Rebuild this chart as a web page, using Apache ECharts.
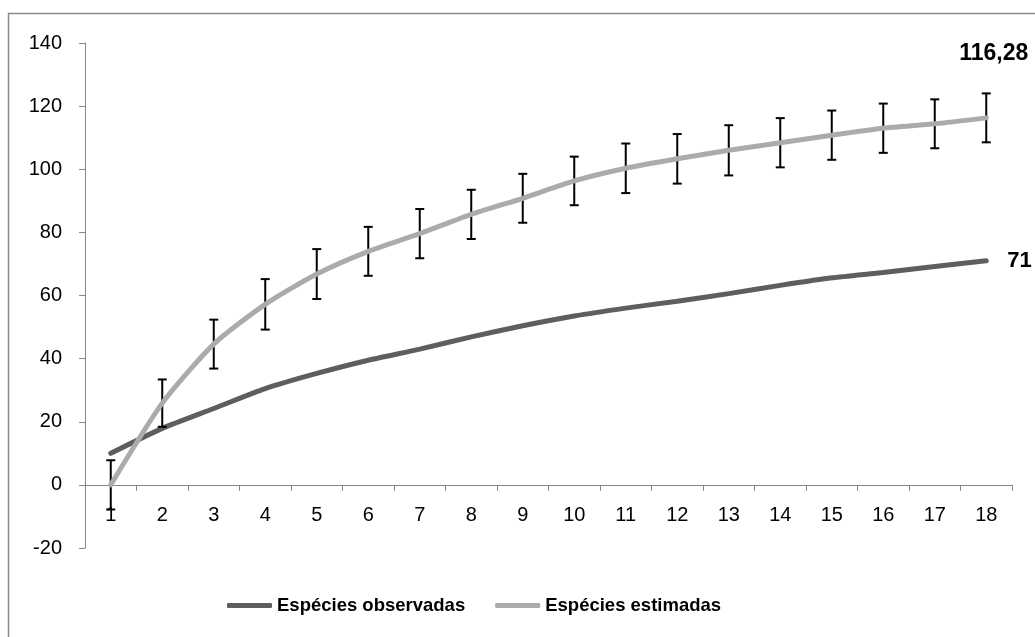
<!DOCTYPE html>
<html>
<head>
<meta charset="utf-8">
<script src="https://cdn.jsdelivr.net/npm/echarts@6/dist/echarts.min.js"></script>
<style>
html,body{margin:0;padding:0;background:#fff;}
#chart{width:1035px;height:637px;}
</style>
</head>
<body>
<div id="chart"></div>
<script>
const categories = ['1','2','3','4','5','6','7','8','9','10','11','12','13','14','15','16','17','18'];
const observadas = [10, 17.9, 24.2, 30.5, 35.3, 39.5, 43, 46.9, 50.4, 53.5, 56, 58.2, 60.6, 63.2, 65.6, 67.3, 69.2, 71];
const estimadas = [0, 25.9, 44.6, 57.2, 66.8, 74, 79.6, 85.7, 90.8, 96.3, 100.3, 103.3, 106, 108.4, 110.8, 113, 114.4, 116.28];
const erros = [7.8, 7.5, 7.75, 8, 7.9, 7.75, 7.8, 7.8, 7.75, 7.7, 7.85, 7.85, 7.95, 7.8, 7.8, 7.8, 7.75, 7.75];
const yTicks = { min: -20, max: 140, interval: 20 };
const seriesNames = ['Espécies observadas', 'Espécies estimadas'];

const FONT = "'Liberation Sans', Arial, sans-serif";
const fmt = v => (Math.round(v * 100) / 100).toString().replace('.', ',');

const errData = estimadas.map((v, i) => [i, v - erros[i], v + erros[i]]);

const GRID_TOP = 43, GRID_BOTTOM = 89, H = 637;
const plotH = H - GRID_TOP - GRID_BOTTOM;
const zeroOffset = -plotH * (0 - yTicks.min) / (yTicks.max - yTicks.min);

const chart = echarts.init(document.getElementById('chart'), null, {renderer: 'canvas'});
chart.setOption({
  animation: false,
  backgroundColor: '#ffffff',
  graphic: [{
    type: 'rect',
    shape: {x: 8.5, y: 13.5, width: 1200, height: 1000},
    style: {fill: 'none', stroke: '#8a8a8a', lineWidth: 1.5},
    silent: true, z: -10
  }],
  grid: {left: 85, right: 23, top: GRID_TOP, bottom: GRID_BOTTOM, containLabel: false},
  legend: {
    left: 222, top: 591,
    itemWidth: 45, itemHeight: 5, itemGap: 30,
    icon: 'roundRect',
    textStyle: {fontFamily: FONT, fontWeight: 'bold', fontSize: 18.5, color: '#000'},
    data: seriesNames
  },
  xAxis: {
    type: 'category',
    data: categories,
    boundaryGap: true,
    offset: zeroOffset,
    axisLine: {onZero: false, lineStyle: {color: '#878787', width: 1}},
    axisTick: {show: true, length: 6, interval: 0, lineStyle: {color: '#878787'}},
    axisLabel: {fontFamily: FONT, fontSize: 20, color: '#000', margin: 21, interval: 0},
    splitLine: {show: false}
  },
  yAxis: {
    type: 'value',
    min: yTicks.min, max: yTicks.max, interval: yTicks.interval,
    axisLine: {show: true, lineStyle: {color: '#878787', width: 1}},
    axisTick: {show: true, length: 6, lineStyle: {color: '#878787'}},
    axisLabel: {fontFamily: FONT, fontSize: 20, color: '#000', margin: 23},
    splitLine: {show: false}
  },
  series: [
    {
      name: seriesNames[0],
      type: 'line',
      data: observadas,
      smooth: 0.22,
      symbol: 'none',
      color: '#5e5e5e',
      lineStyle: {color: '#5e5e5e', width: 5, cap: 'round'},
      z: 2,
      endLabel: {
        show: true,
        formatter: p => fmt(p.value),
        fontFamily: FONT, fontWeight: 'bold', fontSize: 22, color: '#000',
        distance: 21
      }
    },
    {
      name: 'erro',
      type: 'custom',
      data: errData,
      z: 3,
      renderItem: function (params, api) {
        const x = api.value(0);
        const lo = api.coord([x, api.value(1)]);
        const hi = api.coord([x, api.value(2)]);
        const hw = 4.5;
        return {
          type: 'group',
          children: [
            {type: 'line', shape: {x1: lo[0], y1: lo[1], x2: hi[0], y2: hi[1]}, style: {stroke: '#000', lineWidth: 2}},
            {type: 'line', shape: {x1: lo[0] - hw, y1: lo[1], x2: lo[0] + hw, y2: lo[1]}, style: {stroke: '#000', lineWidth: 2}},
            {type: 'line', shape: {x1: hi[0] - hw, y1: hi[1], x2: hi[0] + hw, y2: hi[1]}, style: {stroke: '#000', lineWidth: 2}}
          ]
        };
      },
      encode: {x: 0, y: [1, 2]},
      silent: true
    },
    {
      name: seriesNames[1],
      type: 'line',
      data: estimadas,
      smooth: 0.22,
      symbol: 'none',
      color: '#ababab',
      lineStyle: {color: '#ababab', width: 5, cap: 'round'},
      z: 4,
      endLabel: {
        show: true,
        formatter: p => fmt(p.value),
        fontFamily: FONT, fontWeight: 'bold', fontSize: 23, color: '#000',
        distance: 0,
        offset: [-27, -64]
      }
    }
  ]
});
</script>
</body>
</html>
